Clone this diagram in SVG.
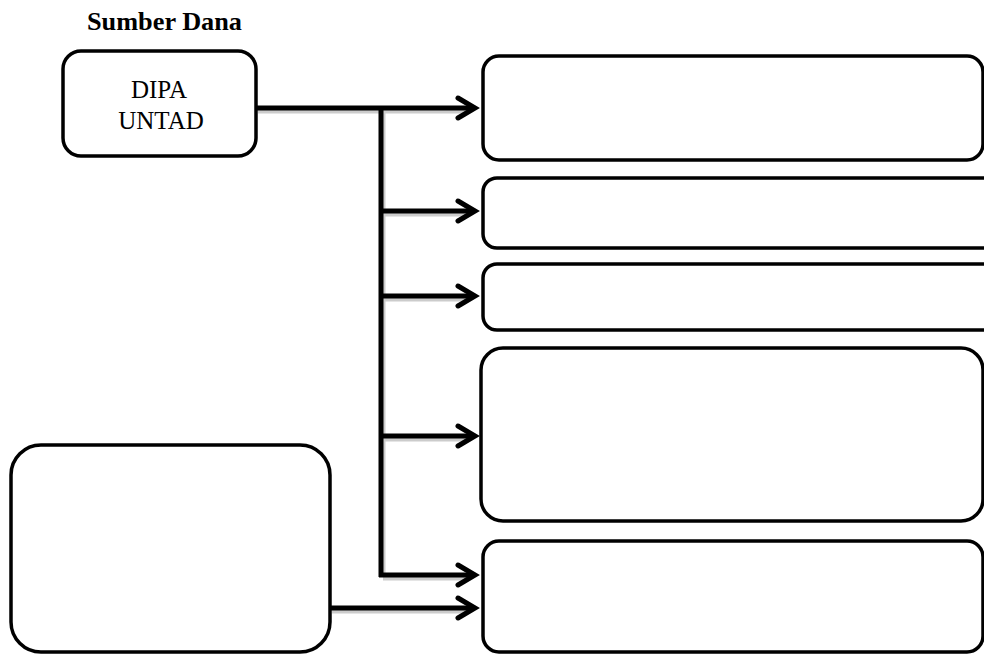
<svg xmlns="http://www.w3.org/2000/svg" width="984" height="654" viewBox="0 0 984 654">
<style>
.box{fill:#fff;stroke:#000;stroke-width:3.5}
.ln{fill:none;stroke:#000;stroke-width:5;stroke-linecap:butt}
.sh{fill:none;stroke:#aaa;stroke-width:5;opacity:0.6}
.hd{fill:none;stroke:#000;stroke-width:5;stroke-linejoin:miter;stroke-linecap:round}
.t{font-family:"Liberation Serif","Times New Roman",serif;font-size:25px;fill:#000}
</style>
<rect width="984" height="654" fill="#fff"/>
<text class="t" x="87" y="30" style="font-weight:bold;font-size:26px" textLength="155" lengthAdjust="spacingAndGlyphs">Sumber Dana</text>
<g id="dipa">
<rect class="box" x="63" y="51" width="193" height="105" rx="18"/>
<text class="t" x="159" y="98" text-anchor="middle">DIPA</text>
<text class="t" x="161" y="129" text-anchor="middle">UNTAD</text>
</g>
<g id="box1"><rect class="box" x="483" y="56" width="500" height="104" rx="16"/></g>
<g id="box2"><rect class="box" x="483" y="178" width="520" height="70" rx="14"/></g>
<g id="box3"><rect class="box" x="483" y="264" width="520" height="66" rx="14"/></g>
<g id="box4"><rect class="box" x="481" y="348" width="502" height="173" rx="22"/></g>
<g id="box5"><rect class="box" x="483" y="541" width="500" height="111" rx="16"/></g>
<g id="left"><rect class="box" x="11" y="445" width="319" height="207" rx="30"/></g>
<g id="connectors">
<path class="sh" d="M258 111H470M383 111V577M383 214H470M383 299H470M383 439H470M383 578H470M332 611H470"/>
<path class="ln" d="M257 108H472M381 106V577M381 211H472M381 296H472M381 436H472M379 575H472M330 608H472"/>
<path class="hd" d="M458 98L475 108L458 118M458 201L475 211L458 221M458 286L475 296L458 306M458 426L475 436L458 446M458 565L475 575L458 585M458 598L475 608L458 618"/>
</g>
</svg>
